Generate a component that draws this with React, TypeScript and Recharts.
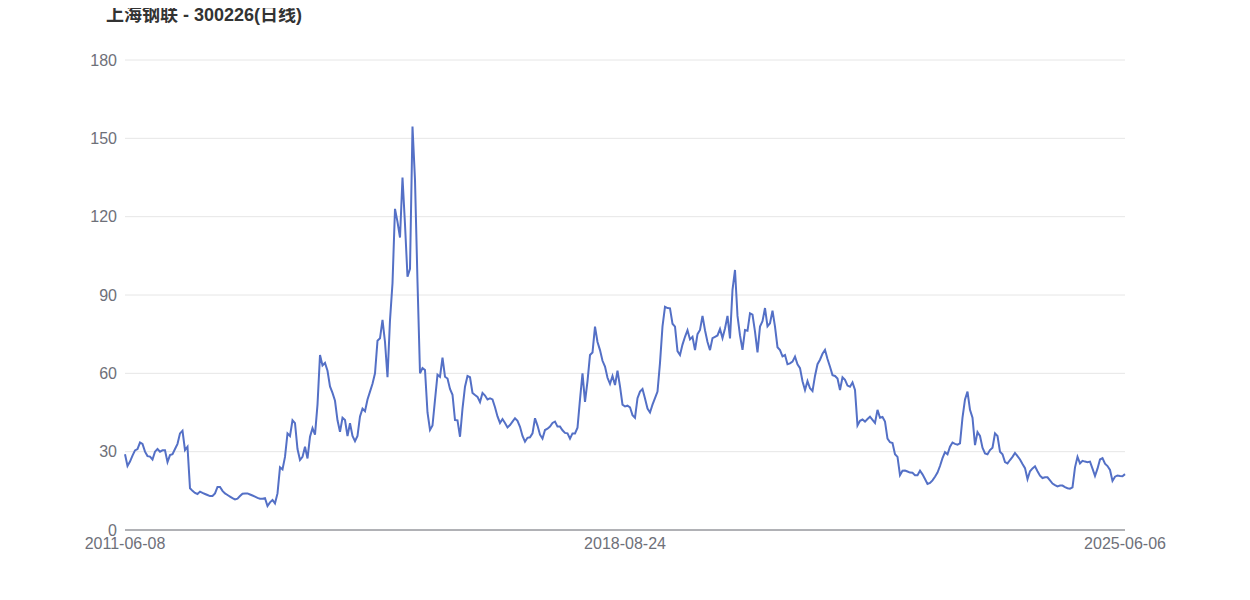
import React from 'react'
import { LineChart, Line, XAxis, YAxis, CartesianGrid } from 'recharts';

const title = '上海钢联 - 300226(日线)';
const dateLabels = ['2011-06-08', '2018-08-24', '2025-06-06'];
const yTicks = [0, 30, 60, 90, 120, 150, 180];

// daily close, sampled evenly across the period
const closes = [
    29, 24.5, 26.2, 28.5, 30.5, 31, 33.5, 33, 30, 28.3,
    28.1, 27, 30, 31, 30, 30.5, 30.5, 26, 28.7, 29,
    31, 33, 37, 38, 30.6, 31.9, 16, 15, 14.2, 13.8,
    14.7, 14.2, 13.8, 13.4, 13, 13, 14, 16.5, 16.5, 15,
    14, 13.4, 12.8, 12.2, 11.7, 12, 13, 13.9, 14, 14,
    13.6, 13.2, 12.8, 12.3, 12, 12, 12.2, 9.2, 10.6, 11.5,
    10.2, 14, 24, 23.2, 28, 37, 36, 42, 40.9, 31,
    26.8, 28, 31.9, 27.4, 35.7, 39, 36.5, 48, 67, 63,
    64, 61, 55, 52.5, 49.5, 42, 37.6, 43, 42.1, 36,
    40.9, 36, 34, 36, 43.5, 46.5, 45.5, 50, 53, 56,
    60, 72.5, 73.4, 80.5, 72, 58.5, 80.4, 94.5, 123, 118,
    112, 135, 117, 97, 100, 154.5, 134, 95, 60, 62,
    61.3, 45, 38.3, 40, 49.8, 59.5, 58.7, 66, 58.7, 58,
    54, 51.8, 42.1, 42, 35.7, 46.5, 54.9, 59, 58.5, 52.5,
    51.7, 51, 49, 52.5, 51.5, 50, 50.4, 50, 47, 43.5,
    41, 42.5, 41, 39.3, 40.2, 41.5, 42.8, 41.8, 39.5, 36,
    33.8, 35.3, 35.5, 37, 42.8, 40, 36.5, 35, 38.3, 38.8,
    39.6, 41, 41.5, 39.6, 39.6, 38.2, 37.2, 37, 35, 37,
    37, 39.2, 50, 60, 49.1, 57, 67, 68, 77.9, 72,
    68.9, 64.8, 62.6, 58.3, 56, 59, 55.5, 61, 55, 48,
    47.3, 47.6, 47, 44, 43, 50.5, 53, 54, 50.4, 46.5,
    45, 48, 50.5, 53, 64, 78, 85.5, 85, 84.9, 79,
    77.9, 68.5, 67, 71, 74, 76.5, 73, 74, 68.9, 75,
    76.6, 82, 76.5, 72, 68.9, 73.5, 74, 74.5, 77, 73.5,
    77.2, 82, 73.4, 92, 99.6, 82, 74.5, 69, 76.6, 76.3,
    83, 82.5, 76, 68, 77.9, 80, 85, 78, 79.2, 84,
    77.9, 70, 68.9, 66.5, 67, 63.5, 63.8, 64.5, 66.4, 63.5,
    62, 57, 53.6, 57, 54.3, 53.2, 59, 63.5, 65.2, 67.5,
    69, 65.5, 62.5, 59.3, 59, 58, 53.6, 58.5, 57.5, 55.3,
    54.9, 56.5, 53.6, 40, 41.8, 42.3, 41.5, 42.5, 43.4, 42.2,
    41, 46, 43, 43.3, 41.5, 35, 33.6, 33.3, 29, 28,
    21, 22.7, 22.8, 22.4, 22, 21.9, 21, 21, 22.7, 21.3,
    19.5, 17.6, 18, 19, 20.4, 22, 24.5, 27.5, 29.8, 29,
    31.9, 33.5, 33, 32.7, 33.2, 43, 50, 53, 46, 43,
    32.5, 37.5, 36, 31.5, 29.3, 29, 30.6, 31.5, 37, 36,
    30, 29, 26, 25.5, 26.8, 28, 29.5, 28.3, 27, 25.3,
    23.7, 19.5, 22.5, 23.6, 24.4, 22.5, 20.8, 19.9, 20.2, 20.2,
    19, 17.8, 17.2, 16.7, 17, 17, 16.4, 16, 15.8, 16.3,
    24, 28, 25.5, 26.5, 26.2, 26, 26.2, 23.5, 20.7, 23.5,
    27, 27.5, 25.4, 24.5, 23, 18.8, 20.4, 20.9, 20.7, 20.6,
    21.4,
];

const data = closes.map((v, i) => ({ i, v }));
const last = closes.length - 1;
const xTicks = [0, last / 2, last];

const font = '"Liberation Sans", Arial, "Noto Sans CJK SC", sans-serif';

export default function App() {
    return (
        <div style={{ marginTop: -8, width: 1234, fontFamily: font }}>
            <svg width={1234} height={28} style={{ display: 'block' }}>
                <text x={98} y={21} fontSize={18} fontWeight="bold" fill="#333" fontFamily={font}>
                    {title}
                </text>
            </svg>
            <LineChart width={1234} height={570} data={data} margin={{ top: 32, right: 117, bottom: 38, left: 0 }}>
                <CartesianGrid vertical={false} stroke="#e6e6e6" />
                <XAxis
                    dataKey="i"
                    type="number"
                    domain={[0, last]}
                    ticks={xTicks}
                    interval={0}
                    tickFormatter={(t) => dateLabels[xTicks.indexOf(t)]}
                    tickLine={false}
                    axisLine={{ stroke: '#6e7079' }}
                    tick={{ fill: '#6e7079', fontSize: 16, fontFamily: font }}
                />
                <YAxis
                    width={117}
                    domain={[0, 180]}
                    ticks={yTicks}
                    interval={0}
                    axisLine={false}
                    tickLine={false}
                    tick={{ fill: '#6e7079', fontSize: 16, fontFamily: font }}
                />
                <Line type="linear" dataKey="v" stroke="#5470c6" strokeWidth={2} dot={false} isAnimationActive={false} />
            </LineChart>
        </div>
    )
}
